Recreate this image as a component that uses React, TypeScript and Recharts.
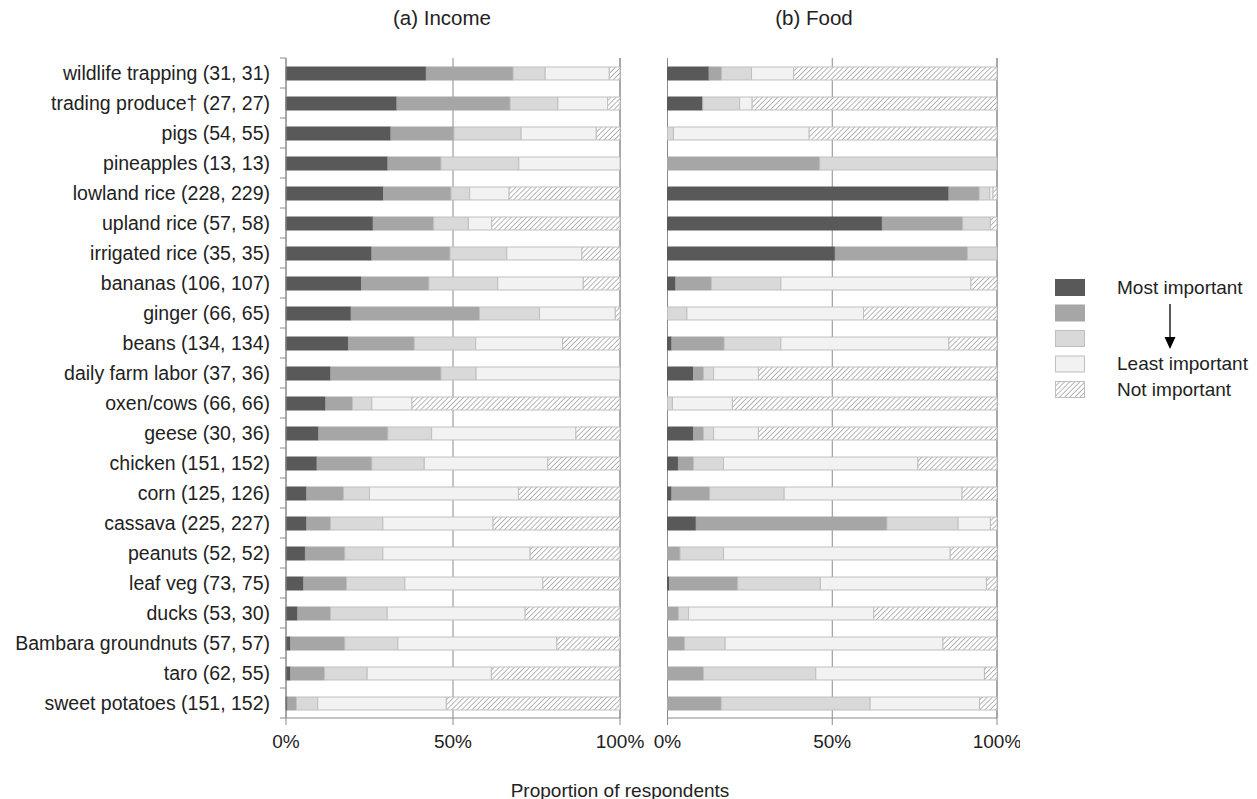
import React from "react";
import { BarChart, Bar, XAxis, YAxis, CartesianGrid } from "recharts";

// Respondents ranking each livelihood activity, % per rank (top row first).
const categories = [
  "wildlife trapping (31, 31)",
  "trading produce† (27, 27)",
  "pigs (54, 55)",
  "pineapples (13, 13)",
  "lowland rice (228, 229)",
  "upland rice (57, 58)",
  "irrigated rice (35, 35)",
  "bananas (106, 107)",
  "ginger (66, 65)",
  "beans (134, 134)",
  "daily farm labor (37, 36)",
  "oxen/cows (66, 66)",
  "geese (30, 36)",
  "chicken (151, 152)",
  "corn (125, 126)",
  "cassava (225, 227)",
  "peanuts (52, 52)",
  "leaf veg (73, 75)",
  "ducks (53, 30)",
  "Bambara groundnuts (57, 57)",
  "taro (62, 55)",
  "sweet potatoes (151, 152)",
];

const incomeMost = [42.0, 33.2, 31.4, 30.5, 29.2, 26.1, 25.7, 22.6, 19.5, 18.7, 13.4, 11.9, 9.8, 9.3, 6.2, 6.2, 5.8, 5.3, 3.5, 1.4, 1.4, 0.5];
const incomeSecond = [26.0, 33.9, 18.9, 15.9, 20.2, 18.1, 23.4, 20.2, 38.4, 19.7, 33.0, 8.0, 20.7, 16.4, 11.0, 7.1, 11.8, 12.8, 9.8, 16.2, 10.1, 2.6];
const incomeThird = [9.6, 14.3, 20.1, 23.3, 5.6, 10.4, 17.0, 20.6, 18.0, 18.4, 10.5, 5.8, 13.1, 15.7, 7.8, 15.7, 11.4, 17.5, 17.0, 15.9, 12.8, 6.4];
const incomeLeast = [19.2, 14.9, 22.5, 30.3, 11.8, 7.0, 22.5, 25.6, 22.7, 26.0, 43.1, 12.0, 43.2, 37.0, 44.6, 33.0, 44.1, 41.3, 41.3, 47.6, 37.2, 38.5];
const incomeNot = [3.2, 3.7, 7.1, 0, 33.2, 38.4, 11.4, 11.0, 1.4, 17.2, 0, 62.3, 13.2, 21.6, 30.4, 38.0, 26.9, 23.1, 28.4, 18.9, 38.5, 52.0];

const foodMost = [12.6, 10.7, 0, 0, 85.4, 65.2, 50.9, 2.5, 0, 1.3, 7.9, 0, 7.9, 3.3, 1.3, 8.7, 0, 0.6, 0, 0, 0, 0];
const foodSecond = [3.8, 0, 0, 46.2, 9.2, 24.4, 40.1, 10.8, 0, 15.9, 3.0, 0, 3.0, 4.6, 11.5, 57.9, 3.8, 20.7, 3.3, 5.2, 10.9, 16.3];
const foodThird = [9.1, 11.2, 1.8, 53.8, 3.2, 8.4, 9.0, 21.1, 5.9, 17.2, 3.1, 1.5, 3.1, 9.1, 22.6, 21.6, 13.2, 25.1, 3.1, 12.3, 34.1, 45.2];
const foodLeast = [12.8, 3.8, 41.2, 0, 1.0, 0, 0, 57.7, 53.6, 51.0, 13.6, 18.2, 13.6, 59.0, 54.0, 9.8, 68.8, 50.4, 56.2, 66.1, 51.2, 33.2];
const foodNot = [61.7, 74.3, 57.0, 0, 1.2, 2.0, 0, 7.9, 40.5, 14.6, 72.4, 80.3, 72.4, 24.0, 10.6, 2.0, 14.2, 3.2, 37.4, 16.4, 3.8, 5.3];

const legendLabels = ["Most important", "", "", "Least important", "Not important"];
const xTicks = [0, 50, 100];

const FONT = "'Liberation Sans', Arial, sans-serif";
const TEXT = "#222";
const GRID = "#8a8a8a";
const KEYS = ["r1", "r2", "r3", "r4", "r5"];
const FILLS = ["#595959", "#a6a6a6", "#d9d9d9", "#f2f2f2"];
const STROKES = ["#595959", "#a6a6a6", "#bfbfbf", "#bfbfbf", "#bfbfbf"];

const TOP = 58;
const PLOT_H = 660;
const BAND = PLOT_H / categories.length;
const CHART_H = 760;
const XAXIS_H = 34;

function rows(series: number[][]) {
  return categories.map((name, i) => {
    const row: Record<string, string | number> = { name };
    KEYS.forEach((k, j) => (row[k] = series[j][i]));
    return row;
  });
}

const incomeData = rows([incomeMost, incomeSecond, incomeThird, incomeLeast, incomeNot]);
const foodData = rows([foodMost, foodSecond, foodThird, foodLeast, foodNot]);

// Category label plus the little boundary tick between rows (Excel style).
const CatTick = (props: any) => {
  const { x, y, payload, index } = props;
  const h = BAND / 2;
  return (
    <g>
      <text x={x} y={y} dy="0.35em" textAnchor="end" fontSize={19.5} fontFamily={FONT} fill={TEXT}>
        {payload.value}
      </text>
      <line x1={x + 10} x2={x + 16} y1={y + h} y2={y + h} stroke={GRID} />
      {index === 0 && <line x1={x + 10} x2={x + 16} y1={y - h} y2={y - h} stroke={GRID} />}
    </g>
  );
};

function Hatch({ id }: { id: string }) {
  return (
    <pattern id={id} patternUnits="userSpaceOnUse" width="3.6" height="3.6" patternTransform="rotate(45)">
      <rect width="3.6" height="3.6" fill="#fff" />
      <line x1="0" y1="0" x2="0" y2="3.6" stroke="#8f8f8f" strokeWidth={1.3} />
    </pattern>
  );
}

function Panel({
  data,
  hatchId,
  left,
  width,
  marginLeft,
  marginRight,
  labels,
}: {
  data: Record<string, string | number>[];
  hatchId: string;
  left: number;
  width: number;
  marginLeft: number;
  marginRight: number;
  labels: boolean;
}) {
  return (
    <div style={{ position: "absolute", left, top: 0 }}>
      <BarChart
        width={width}
        height={CHART_H}
        data={data}
        layout="vertical"
        barSize={13}
        margin={{ top: TOP, right: marginRight, bottom: CHART_H - TOP - PLOT_H - XAXIS_H, left: marginLeft }}
      >
        <defs>
          <Hatch id={hatchId} />
        </defs>
        <CartesianGrid horizontal={false} stroke={GRID} />
        <XAxis
          type="number"
          domain={[0, 100]}
          ticks={xTicks}
          height={XAXIS_H}
          tickFormatter={(v) => `${v}%`}
          axisLine={{ stroke: GRID }}
          tickLine={{ stroke: GRID }}
          tickSize={7}
          tickMargin={10}
          tick={{ fontSize: 19, fill: TEXT, fontFamily: FONT }}
        />
        <YAxis
          type="category"
          dataKey="name"
          hide={!labels}
          width={labels ? 286 : 0}
          interval={0}
          axisLine={{ stroke: GRID }}
          tickLine={false}
          tickSize={6}
          tickMargin={10}
          tick={<CatTick />}
        />
        {KEYS.map((k, i) => (
          <Bar
            key={k}
            dataKey={k}
            stackId="s"
            fill={i === 4 ? `url(#${hatchId})` : FILLS[i]}
            stroke={STROKES[i]}
            strokeWidth={1}
            isAnimationActive={false}
          />
        ))}
      </BarChart>
    </div>
  );
}

function Legend() {
  const tops = [279, 304.5, 330, 355.5, 381];
  return (
    <svg style={{ position: "absolute", left: 0, top: 0 }} width={1257} height={799}>
      <defs>
        <Hatch id="hatchLegend" />
      </defs>
      {legendLabels.map((lab, i) => (
        <rect
          key={i}
          x={1055.5}
          y={tops[i] + 0.5}
          width={29}
          height={16}
          fill={i === 4 ? "url(#hatchLegend)" : FILLS[i]}
          stroke={STROKES[i]}
        />
      ))}
      {legendLabels.map((lab, i) =>
        lab ? (
          <text key={"t" + i} x={1117} y={tops[i] + 8} dy="0.35em" fontSize={19} fontFamily={FONT} fill={TEXT}>
            {lab}
          </text>
        ) : null
      )}
      <line x1={1170} x2={1170} y1={304} y2={338} stroke="#000" strokeWidth={1.3} />
      <polygon points="1164.5,337 1175.5,337 1170,349" fill="#000" />
    </svg>
  );
}

export default function App() {
  return (
    <div style={{ position: "absolute", left: 0, top: 0, width: 1257, height: 799, background: "#fff", fontFamily: FONT }}>
      <Panel data={incomeData} hatchId="hatchIncome" left={0} width={660} marginLeft={0} marginRight={40} labels />
      <Panel data={foodData} hatchId="hatchFood" left={630} width={390} marginLeft={37.5} marginRight={23} labels={false} />
      <div style={{ position: "absolute", left: 442, top: 8, transform: "translateX(-50%)", fontSize: 20.5, lineHeight: 1, color: TEXT, whiteSpace: "nowrap" }}>
        (a) Income
      </div>
      <div style={{ position: "absolute", left: 814, top: 8, transform: "translateX(-50%)", fontSize: 20.5, lineHeight: 1, color: TEXT, whiteSpace: "nowrap" }}>
        (b) Food
      </div>
      <div style={{ position: "absolute", left: 620, top: 781, transform: "translateX(-50%)", fontSize: 19, lineHeight: 1, color: TEXT, whiteSpace: "nowrap" }}>
        Proportion of respondents
      </div>
      <Legend />
    </div>
  );
}
